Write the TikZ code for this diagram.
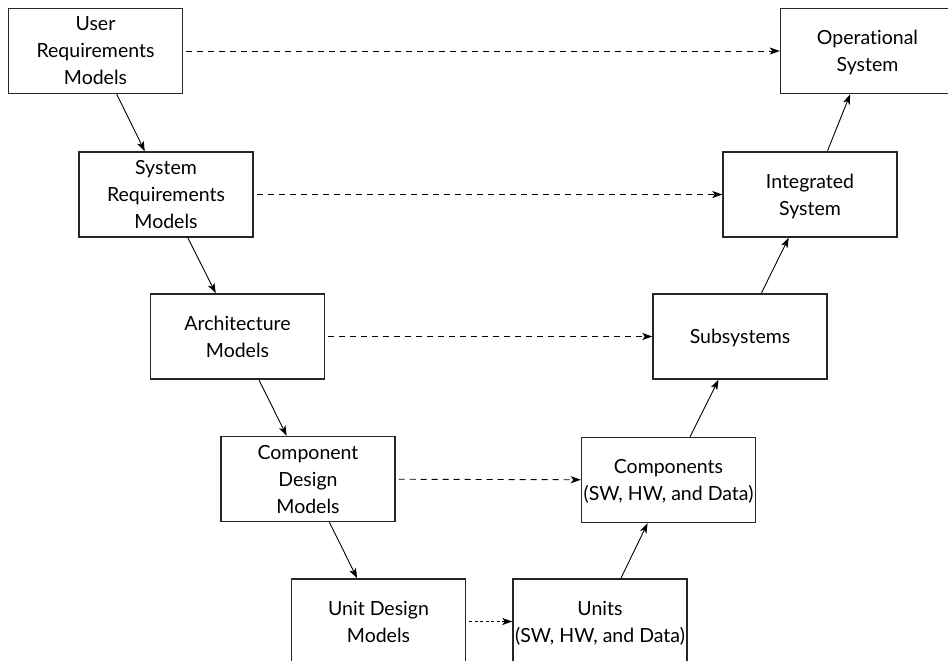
\documentclass[tikz,border=0pt]{standalone}
\usepackage{fontspec}
\setmainfont{Lato}[Ligatures=NoCommon]
\usetikzlibrary{arrows.meta}

\tikzset{
  model/.style={draw=black!85, line width=1.4pt, minimum width=174pt, minimum height=85pt,
    align=center, inner sep=1pt, text depth=0pt, font=\fontsize{19.5}{27}\selectfont},
  flow/.style={->, line width=0.9pt},
  trace/.style={->, line width=0.9pt, dash pattern=on 6pt off 5pt, shorten <=3pt},
  tracefine/.style={->, line width=0.9pt, dash pattern=on 3pt off 2.5pt, shorten <=3pt}
}

\begin{document}
\begin{tikzpicture}[x=1pt, y=-1pt, >={Stealth[length=10pt,width=7pt,inset=2.5pt]}]
            \clip (0,0) rectangle (948,661);

            % left leg: models
            \node[model] (ur) at (95.5,51) {User\\Requirements\\Models};
            \node[model] (sr) at (166,194.5) {System\\Requirements\\Models};
            \node[model] (arch) at (237.5,336.5) {Architecture\\Models};
            \node[model] (cd) at (308,479) {Component\\Design\\Models};
            \node[model] (ud) at (378.5,621.5) {Unit Design\\Models};

            % right leg: built things
            \node[model] (units) at (600,621.5) {Units\\(SW, HW, and Data)};
            \node[model] (comp) at (668.5,480) {Components\\(SW, HW, and Data)};
            \node[model] (sub) at (740,336.5) {Subsystems};
            \node[model] (integ) at (810,194.5) {Integrated\\System};
            \node[model] (ops) at (867.5,51) {Operational\\System};

            \path
                (ur) edge[flow] (sr)
                (sr) edge[flow] (arch)
                (arch) edge[flow] (cd)
                (cd) edge[flow] (ud)
                (units) edge[flow] (comp)
                (comp) edge[flow] (sub)
                (sub) edge[flow] (integ)
                (integ) edge[flow] (ops)
                (ur) edge[trace] (ops)
                (sr) edge[trace] (integ)
                (arch) edge[trace] (sub)
                (cd) edge[trace] (comp)
                (ud) edge[tracefine] (units)
                ;
        \end{tikzpicture}
\end{document}
